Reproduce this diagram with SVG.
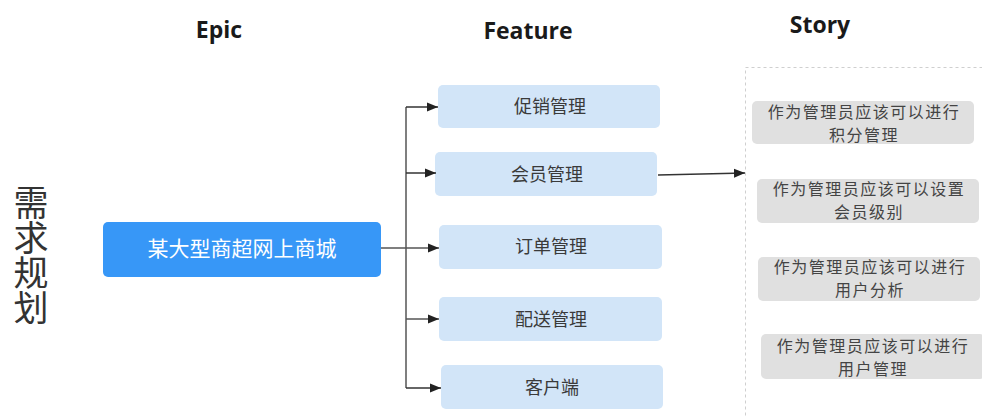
<svg xmlns="http://www.w3.org/2000/svg" width="982" height="416" viewBox="0 0 982 416">
<defs>
<marker id="arr" markerUnits="userSpaceOnUse" markerWidth="12" markerHeight="10" refX="11" refY="5" orient="auto">
<path d="M0,0.5 L11,5 L0,9.5 Z" fill="#222"/>
</marker>
<style>
.title{font-family:"Open Sans","Liberation Sans",sans-serif;font-weight:bold;font-size:23px;fill:#1a1a1a;text-anchor:middle}
.cn{font-family:"Noto Sans CJK SC","Noto Sans",sans-serif;text-anchor:middle}
.feat rect{fill:#d2e5f8}
.feat text{font-size:18px;fill:#3a3a3a}
.story rect{fill:#e0e0e0}
.story text{font-size:16px;letter-spacing:1.5px;fill:#444}
.conn{fill:none;stroke:#333;stroke-width:1.5}
</style>
</defs>
<rect width="982" height="416" fill="#fff"/>
<text class="title" x="219" y="38">Epic</text>
<text class="title" x="528" y="39">Feature</text>
<text class="title" x="820" y="33">Story</text>
<g id="vtitle">
<text x="31" y="185" font-family="Noto Sans CJK SC, sans-serif" font-size="35" fill="#333" style="writing-mode:vertical-rl">需求规划</text>
</g>
<rect x="745.5" y="67.5" width="260" height="400" fill="none" stroke="#cfcfcf" stroke-width="1" stroke-dasharray="3 3"/>
<g id="epic" class="cn">
<rect x="103" y="222" width="278" height="55" rx="5" fill="#3797f7"/>
<text x="242" y="256" font-size="21" fill="#fff">某大型商超网上商城</text>
</g>
<g id="f1" class="feat cn"><rect x="438" y="85" width="222" height="43" rx="5"/><text x="550" y="113">促销管理</text></g>
<g id="f2" class="feat cn"><rect x="435" y="152" width="222" height="44" rx="5"/><text x="547" y="181">会员管理</text></g>
<g id="f3" class="feat cn"><rect x="439" y="225" width="223" height="44" rx="5"/><text x="551" y="253">订单管理</text></g>
<g id="f4" class="feat cn"><rect x="439" y="297" width="223" height="44" rx="5"/><text x="551" y="326">配送管理</text></g>
<g id="f5" class="feat cn"><rect x="441" y="365" width="222" height="44" rx="5"/><text x="552" y="394">客户端</text></g>
<g id="s1" class="story cn"><rect x="752" y="101" width="222" height="43" rx="5"/><text x="864" y="118">作为管理员应该可以进行<tspan x="864" dy="22.5">积分管理</tspan></text></g>
<g id="s2" class="story cn"><rect x="757" y="179" width="222" height="44" rx="5"/><text x="869" y="195">作为管理员应该可以设置<tspan x="869" dy="22.5">会员级别</tspan></text></g>
<g id="s3" class="story cn"><rect x="758" y="257" width="222" height="44" rx="5"/><text x="870" y="273">作为管理员应该可以进行<tspan x="870" dy="22.5">用户分析</tspan></text></g>
<g id="s4" class="story cn"><rect x="761" y="334" width="224" height="45" rx="5"/><text x="873" y="352">作为管理员应该可以进行<tspan x="873" dy="22.5">用户管理</tspan></text></g>
<g id="connectors" class="conn">
<path d="M381,248 H439" marker-end="url(#arr)" stroke="#555"/>
<path d="M406,107 V388" stroke="#555"/>
<path d="M406,107 H438" marker-end="url(#arr)"/>
<path d="M406,173 H436" marker-end="url(#arr)"/>
<path d="M406,319 H439" marker-end="url(#arr)" stroke="#555"/>
<path d="M406,388 H441" marker-end="url(#arr)"/>
<path d="M658,175 L745,173" marker-end="url(#arr)"/>
</g>
</svg>
